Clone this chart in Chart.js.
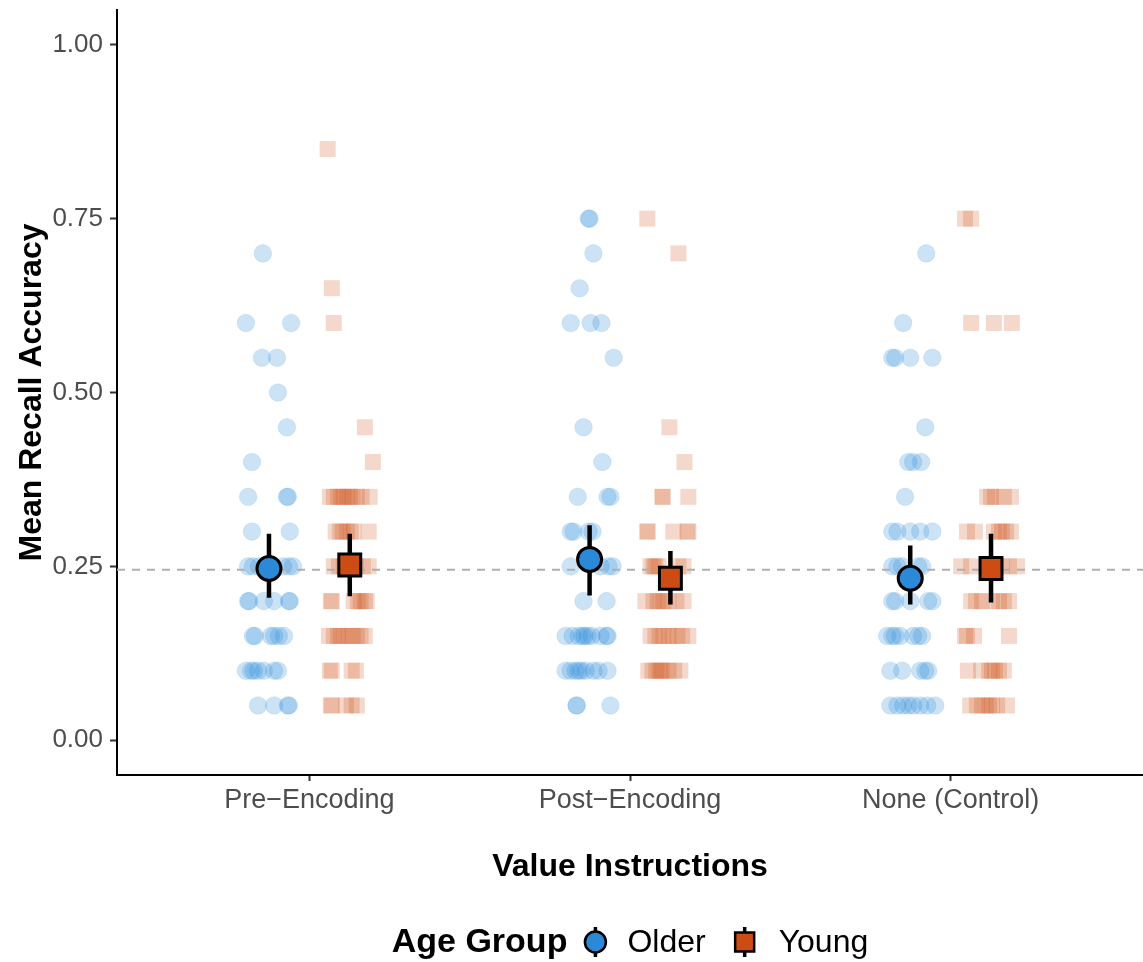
<!DOCTYPE html>
<html><head><meta charset="utf-8">
<script src="https://cdn.jsdelivr.net/npm/chart.js@4.4.1/dist/chart.umd.min.js"></script>
<style>html,body{margin:0;padding:0;background:#fff;}#wrap{width:1143px;height:962px;}</style>
</head><body><div id="wrap"><canvas id="c" width="1143" height="962"></canvas></div>
<script>
// ---------- data ----------
const categories = ['Pre\u2212Encoding', 'Post\u2212Encoding', 'None (Control)'];
const categoryPos = [1, 2, 3];
const yTicks = [0, 0.25, 0.5, 0.75, 1.0];
const chanceLevel = 0.245;
const seriesNames = ['Older', 'Young'];

// group means and error-bar limits (per category)
const olderMean = [0.247, 0.260, 0.233];
const olderLow  = [0.205, 0.208, 0.195];
const olderHigh = [0.297, 0.309, 0.280];
const youngMean = [0.252, 0.233, 0.247];
const youngLow  = [0.207, 0.195, 0.198];
const youngHigh = [0.297, 0.272, 0.297];

// individual participants: [accuracy, horizontal jitter]
const olderPre = [[0.70,-0.019],[0.60,-0.072],[0.60,0.069],[0.55,-0.022],[0.55,0.025],[0.50,0.028],[0.45,0.056],[0.40,-0.053],
  [0.35,-0.065],[0.35,0.056],[0.35,0.059],[0.30,-0.053],[0.30,0.065],
  [0.25,-0.065],[0.25,-0.05],[0.25,-0.031],[0.25,0.044],[0.25,0.062],[0.25,0.075],
  [0.20,-0.065],[0.20,-0.062],[0.20,-0.016],[0.20,0.016],[0.20,0.062],[0.20,0.065],
  [0.15,-0.05],[0.15,-0.044],[0.15,0.006],[0.15,0.016],[0.15,0.031],[0.15,0.047],
  [0.10,-0.072],[0.10,-0.056],[0.10,-0.047],[0.10,-0.034],[0.10,-0.016],[0.10,0.016],[0.10,0.028],
  [0.05,-0.034],[0.05,0.016],[0.05,0.059],[0.05,0.062]];
const youngPre = [[0.85,-0.069],[0.65,-0.056],[0.60,-0.05],[0.45,0.047],[0.40,0.072],
  [0.35,-0.062],[0.35,-0.05],[0.35,-0.037],[0.35,-0.028],[0.35,-0.019],[0.35,-0.009],[0.35,0],[0.35,0.009],[0.35,0.022],[0.35,0.037],[0.35,0.062],
  [0.30,-0.044],[0.30,-0.031],[0.30,-0.022],[0.30,-0.009],[0.30,0.003],[0.30,0.012],[0.30,0.059],
  [0.25,-0.05],[0.25,-0.034],[0.25,-0.019],[0.25,0.019],[0.25,0.041],[0.25,0.059],
  [0.20,-0.059],[0.20,-0.056],[0.20,0.012],[0.20,0.025],[0.20,0.034],[0.20,0.047],[0.20,0.053],
  [0.15,-0.065],[0.15,-0.05],[0.15,-0.037],[0.15,-0.028],[0.15,-0.016],[0.15,-0.003],[0.15,0.009],[0.15,0.022],[0.15,0.034],[0.15,0.047],
  [0.10,-0.062],[0.10,-0.056],[0.10,0.006],[0.10,0.019],
  [0.05,-0.059],[0.05,-0.056],[0.05,-0.012],[0.05,0.006],[0.05,0.022]];
const olderPost = [[0.75,-0.003],[0.75,0],[0.70,0.012],[0.65,-0.031],[0.60,-0.059],[0.60,0.003],[0.60,0.037],[0.55,0.075],
  [0.45,-0.019],[0.40,0.04],[0.35,-0.037],[0.35,0.056],[0.35,0.065],
  [0.30,-0.059],[0.30,-0.05],[0.30,-0.003],[0.30,0.009],
  [0.25,-0.059],[0.25,0.034],[0.25,0.059],[0.25,0.072],
  [0.20,-0.019],[0.20,0.053],
  [0.15,-0.075],[0.15,-0.053],[0.15,-0.034],[0.15,-0.022],[0.15,-0.016],[0.15,-0.006],[0.15,0.006],[0.15,0.034],[0.15,0.053],[0.15,0.056],
  [0.10,-0.075],[0.10,-0.059],[0.10,-0.044],[0.10,-0.034],[0.10,-0.025],[0.10,-0.012],[0.10,0.012],[0.10,0.028],[0.10,0.056],
  [0.05,-0.041],[0.05,-0.04],[0.05,0.065]];
const youngPost = [[0.75,-0.072],[0.70,0.025],[0.45,-0.003],[0.40,0.044],
  [0.35,-0.025],[0.35,-0.024],[0.35,0.056],
  [0.30,-0.072],[0.30,-0.071],[0.30,0.009],[0.30,0.053],[0.30,0.056],
  [0.25,-0.062],[0.25,-0.053],[0.25,-0.047],[0.25,-0.037],[0.25,0.025],[0.25,0.041],
  [0.20,-0.078],[0.20,-0.053],[0.20,-0.04],[0.20,-0.031],[0.20,-0.022],[0.20,-0.006],[0.20,0.019],[0.20,0.041],
  [0.15,-0.062],[0.15,-0.047],[0.15,-0.034],[0.15,-0.022],[0.15,-0.006],[0.15,0.006],[0.15,0.022],[0.15,0.037],[0.15,0.056],
  [0.10,-0.069],[0.10,-0.056],[0.10,-0.044],[0.10,-0.034],[0.10,-0.028],[0.10,-0.019],[0.10,-0.006],[0.10,0.012],[0.10,0.031]];
const olderNone = [[0.70,0.05],[0.60,-0.022],[0.55,-0.056],[0.55,-0.047],[0.55,0],[0.55,0.069],[0.45,0.047],
  [0.40,-0.006],[0.40,0.009],[0.40,0.034],[0.35,-0.016],
  [0.30,-0.056],[0.30,-0.04],[0.30,0],[0.30,0.031],[0.30,0.069],
  [0.25,-0.056],[0.25,-0.04],[0.25,-0.025],[0.25,0.025],[0.25,0.037],
  [0.20,-0.056],[0.20,-0.047],[0.20,0],[0.20,0.056],[0.20,0.069],
  [0.15,-0.072],[0.15,-0.056],[0.15,-0.047],[0.15,-0.031],[0.15,0.009],[0.15,0.025],[0.15,0.037],
  [0.10,-0.062],[0.10,-0.025],[0.10,0.031],[0.10,0.047],[0.10,0.056],
  [0.05,-0.062],[0.05,-0.04],[0.05,-0.022],[0.05,-0.006],[0.05,0.009],[0.05,0.031],[0.05,0.053],[0.05,0.078]];
const youngNone = [[0.75,-0.081],[0.75,-0.062],[0.60,-0.062],[0.60,0.009],[0.60,0.065],
  [0.35,-0.012],[0.35,0],[0.35,0.012],[0.35,0.04],[0.35,0.062],
  [0.30,-0.075],[0.30,-0.05],[0.30,0.009],[0.30,0.025],[0.30,0.034],[0.30,0.047],[0.30,0.062],
  [0.25,-0.093],[0.25,-0.062],[0.25,0.034],[0.25,0.056],[0.25,0.081],
  [0.20,-0.062],[0.20,-0.047],[0.20,-0.028],[0.20,0.003],[0.20,0.025],[0.20,0.04],[0.20,0.056],
  [0.15,-0.081],[0.15,-0.075],[0.15,-0.053],[0.15,0.056],
  [0.10,-0.072],[0.10,-0.031],[0.10,-0.006],[0.10,0.003],[0.10,0.012],[0.10,0.025],[0.10,0.04],
  [0.05,-0.065],[0.05,-0.044],[0.05,-0.028],[0.05,-0.016],[0.05,-0.006],[0.05,0.003],[0.05,0.019],[0.05,0.05]];

// ---------- styling ----------
const DODGE = 0.126;
const BLUE = '#2a8ad8', ORANGE = '#cc4c14';
const BLUE_A = 'rgba(42,138,216,0.24)', ORANGE_A = 'rgba(204,76,20,0.22)';
const FONT = '"Liberation Sans", Arial, Helvetica, sans-serif';

function jitterPoints(groups, side) {
  const out = [];
  groups.forEach((rows, i) => rows.forEach(([y, j]) => out.push({x: categoryPos[i] + side * DODGE + j, y})));
  return out;
}
function meanPoints(means, side) {
  return means.map((m, i) => ({x: categoryPos[i] + side * DODGE, y: m}));
}
function barPoints(lo, hi, side) {
  const out = [];
  lo.forEach((l, i) => {
    const x = categoryPos[i] + side * DODGE;
    out.push({x, y: l}, {x, y: hi[i]}, {x, y: null});
  });
  return out;
}

const legendPlugin = {
  id: 'ggLegend',
  afterDraw(chart) {
    const ctx = chart.ctx;
    const ca = chart.chartArea;
    const cy = 942;
    const titleFont = 'bold 34px ' + FONT, itemFont = '32px ' + FONT;
    ctx.save();
    ctx.textBaseline = 'middle';
    ctx.textAlign = 'left';
    ctx.font = titleFont;
    const wT = ctx.measureText('Age Group').width;
    ctx.font = itemFont;
    const wO = ctx.measureText(seriesNames[0]).width;
    const wY = ctx.measureText(seriesNames[1]).width;
    const total = wT + 17 + 22 + 21 + wO + 28 + 22 + 23 + wY;
    let x = (ca.left + ca.right) / 2 - total / 2;
    ctx.fillStyle = '#000';
    ctx.font = titleFont;
    ctx.fillText('Age Group', x, cy + 1);
    x += wT + 17;
    // older glyph (point-range)
    let gx = x + 11;
    ctx.strokeStyle = '#000'; ctx.lineWidth = 3.5;
    ctx.beginPath(); ctx.moveTo(gx, cy - 15); ctx.lineTo(gx, cy + 15); ctx.stroke();
    ctx.beginPath(); ctx.arc(gx, cy, 10.5, 0, Math.PI * 2);
    ctx.fillStyle = BLUE; ctx.fill(); ctx.lineWidth = 2.5; ctx.stroke();
    x += 22 + 21;
    ctx.fillStyle = '#000'; ctx.font = itemFont;
    ctx.fillText(seriesNames[0], x, cy + 1);
    x += wO + 28;
    // young glyph
    gx = x + 11;
    ctx.lineWidth = 3.5;
    ctx.beginPath(); ctx.moveTo(gx, cy - 15); ctx.lineTo(gx, cy + 15); ctx.stroke();
    ctx.fillStyle = ORANGE; ctx.lineWidth = 2.5;
    ctx.fillRect(gx - 9.5, cy - 9.5, 19, 19); ctx.strokeRect(gx - 9.5, cy - 9.5, 19, 19);
    x += 22 + 23;
    ctx.fillStyle = '#000';
    ctx.fillText(seriesNames[1], x, cy + 1);
    ctx.restore();
  }
};

new Chart(document.getElementById('c'), {
  type: 'scatter',
  data: {
    datasets: [
      {label: 'Older pts', data: jitterPoints([olderPre, olderPost, olderNone], -1), pointStyle: 'circle', pointRadius: 8.8,
        backgroundColor: BLUE_A, borderColor: 'rgba(42,138,216,0.12)', borderWidth: 1, order: 6},
      {label: 'Young pts', data: jitterPoints([youngPre, youngPost, youngNone], 1), pointStyle: 'rect', pointRadius: 11.3,
        backgroundColor: ORANGE_A, borderWidth: 0, order: 6},
      {label: 'chance', data: [{x: 0.4, y: chanceLevel}, {x: 3.6, y: chanceLevel}], showLine: true, pointRadius: 0,
        borderColor: '#b0b0b0', borderWidth: 2, borderDash: [8, 7], order: 5},
      {label: 'Older err', data: barPoints(olderLow, olderHigh, -1), showLine: true, pointRadius: 0, spanGaps: false,
        borderColor: '#000', borderWidth: 4.5, order: 3},
      {label: 'Young err', data: barPoints(youngLow, youngHigh, 1), showLine: true, pointRadius: 0, spanGaps: false,
        borderColor: '#000', borderWidth: 4.5, order: 3},
      {label: 'Older', data: meanPoints(olderMean, -1), pointStyle: 'circle', pointRadius: 12,
        backgroundColor: BLUE, borderColor: '#000', borderWidth: 3, order: 1},
      {label: 'Young', data: meanPoints(youngMean, 1), pointStyle: 'rect', pointRadius: 15.5,
        backgroundColor: ORANGE, borderColor: '#000', borderWidth: 3, order: 1}
    ]
  },
  options: {
    responsive: false, animation: false, devicePixelRatio: 1,
    layout: {autoPadding: false, padding: {top: 10, right: 0, left: 0, bottom: 0}},
    plugins: {legend: {display: false}, tooltip: {enabled: false}},
    elements: {point: {hoverRadius: 0}},
    scales: {
      x: {
        type: 'linear', min: 0.4, max: 3.6,
        afterBuildTicks: s => { s.ticks = categoryPos.map(v => ({value: v})); },
        afterFit: s => { s.height = 187; s.paddingLeft = 0; s.paddingRight = 0; },
        ticks: {callback: v => categories[categoryPos.indexOf(v)] || '', color: '#4d4d4d',
          font: {family: FONT, size: 27}, padding: 3, maxRotation: 0, autoSkip: false},
        grid: {drawOnChartArea: false, drawTicks: true, tickLength: 6, tickWidth: 2, tickColor: '#333'},
        border: {color: '#000', width: 2},
        title: {display: true, text: 'Value Instructions', color: '#000', font: {family: FONT, size: 32, weight: 'bold'},
          padding: {bottom: 76, top: 0}}
      },
      y: {
        min: -0.05, max: 1.05,
        afterBuildTicks: s => { s.ticks = yTicks.map(v => ({value: v})); },
        afterFit: s => { s.width = 117; s.paddingTop = 0; s.paddingBottom = 0; },
        ticks: {callback: v => Number(v).toFixed(2), color: '#4d4d4d', font: {family: FONT, size: 26}, padding: 7},
        grid: {drawOnChartArea: false, drawTicks: true, tickLength: 7, tickWidth: 2, tickColor: '#333'},
        border: {color: '#000', width: 2},
        title: {display: true, text: 'Mean Recall Accuracy', color: '#000', font: {family: FONT, size: 32, weight: 'bold'},
          padding: {top: 13, bottom: 0}}
      }
    }
  },
  plugins: [legendPlugin]
});
</script></body></html>
